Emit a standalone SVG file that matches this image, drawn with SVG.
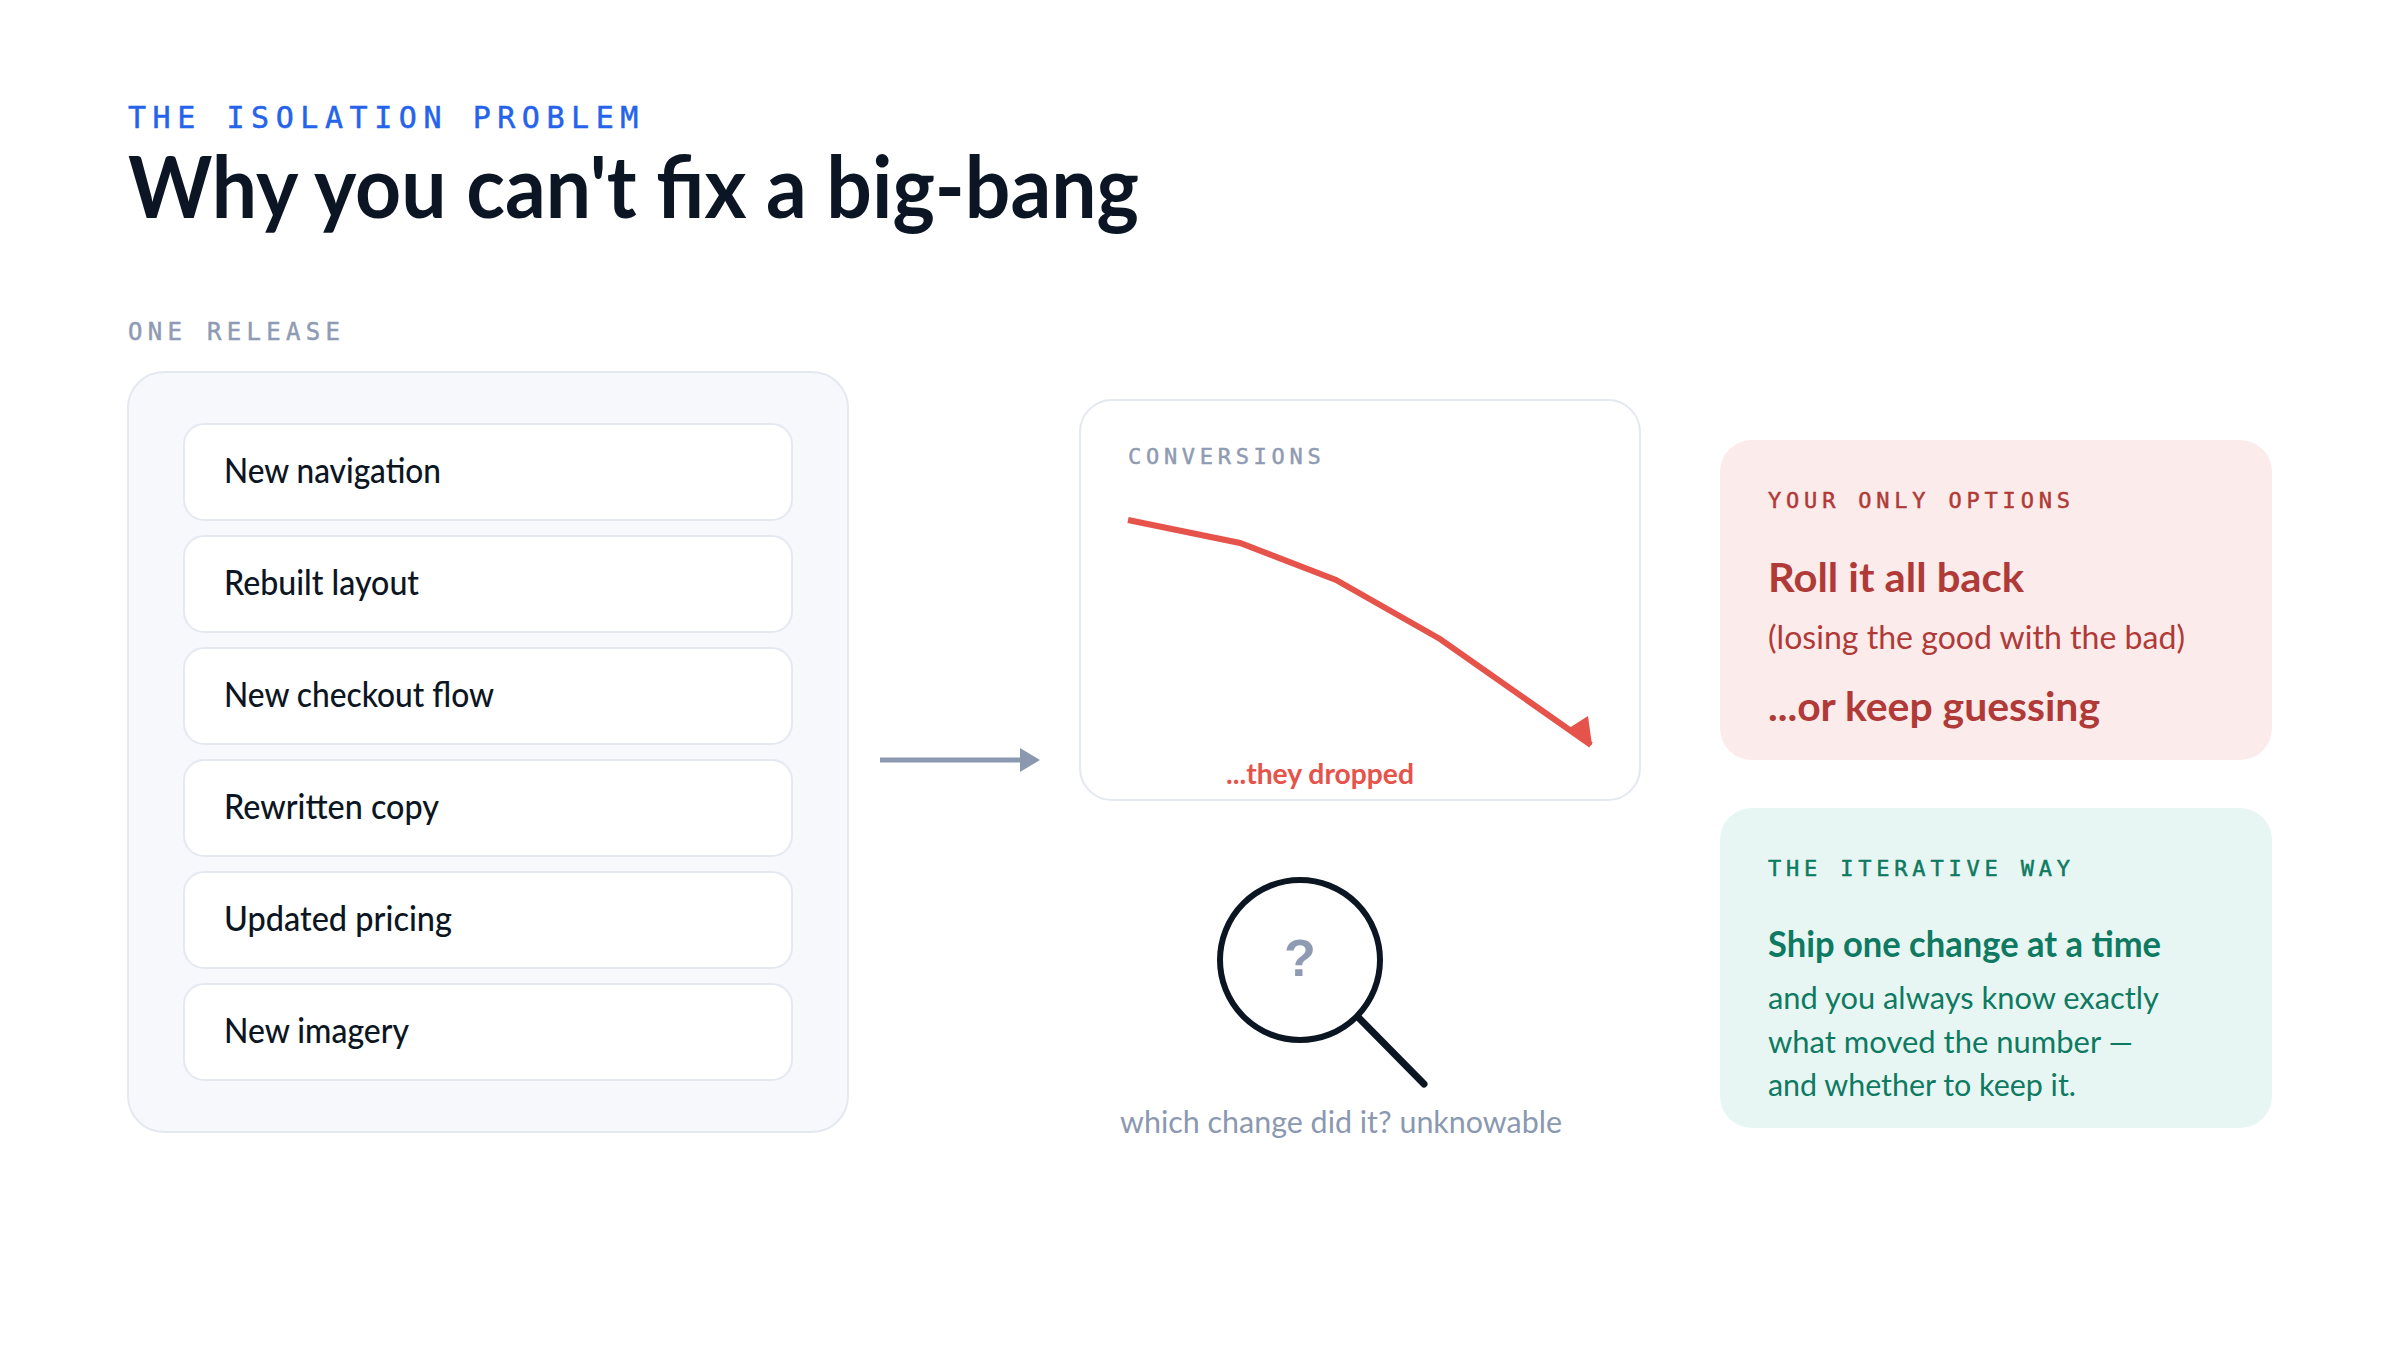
<svg xmlns="http://www.w3.org/2000/svg" width="2400" height="1360" viewBox="0 0 2400 1360">
<style>
text{font-family:"Lato","Liberation Sans",sans-serif}
.mono{font-family:"DejaVu Sans Mono","Liberation Mono",monospace;font-weight:400;stroke-width:.5px}
.item rect{fill:#fff;stroke:#e4e8f1;stroke-width:2}
.item text{font-size:35px;fill:#0c1623;font-weight:500}
.r{fill:#b03a37}.g{fill:#0e7a62}
.b{font-weight:700}
</style>
<rect width="2400" height="1360" fill="#fff"/>
<text class="mono" x="128" y="128" font-size="30" letter-spacing="6.6" fill="#2563eb" stroke="#2563eb" textLength="517" lengthAdjust="spacing">THE ISOLATION PROBLEM</text>
<text x="128" y="218" font-size="86" font-weight="700" fill="#0b1523" textLength="1011" lengthAdjust="spacingAndGlyphs">Why you can't fix a big-bang</text>
<text class="mono" x="128" y="340" font-size="24" letter-spacing="5.3" fill="#8f9bb3" stroke="#8f9bb3">ONE RELEASE</text>
<g id="release-panel"><rect x="128" y="372" width="720" height="760" rx="36" fill="#f7f8fc" stroke="#e4e8f1" stroke-width="2"/></g>
<g id="item-1" class="item"><rect x="184" y="424" width="608" height="96" rx="20"/><text x="224" y="483" textLength="217" lengthAdjust="spacingAndGlyphs">New navigation</text></g>
<g id="item-2" class="item"><rect x="184" y="536" width="608" height="96" rx="20"/><text x="224" y="595" textLength="195" lengthAdjust="spacingAndGlyphs">Rebuilt layout</text></g>
<g id="item-3" class="item"><rect x="184" y="648" width="608" height="96" rx="20"/><text x="224" y="707" textLength="270" lengthAdjust="spacingAndGlyphs">New checkout flow</text></g>
<g id="item-4" class="item"><rect x="184" y="760" width="608" height="96" rx="20"/><text x="224" y="819" textLength="215" lengthAdjust="spacingAndGlyphs">Rewritten copy</text></g>
<g id="item-5" class="item"><rect x="184" y="872" width="608" height="96" rx="20"/><text x="224" y="931" textLength="228" lengthAdjust="spacingAndGlyphs">Updated pricing</text></g>
<g id="item-6" class="item"><rect x="184" y="984" width="608" height="96" rx="20"/><text x="224" y="1043" textLength="185" lengthAdjust="spacingAndGlyphs">New imagery</text></g>
<g id="connectors"><line x1="880" y1="760" x2="1022" y2="760" stroke="#8a98b0" stroke-width="5"/><path d="M1020 748L1040 760L1020 772Z" fill="#8a98b0"/></g>
<g id="chart"><rect x="1080" y="400" width="560" height="400" rx="32" fill="#fff" stroke="#e4e8f1" stroke-width="2"/>
<text class="mono" x="1128" y="464" font-size="22" letter-spacing="4.7" fill="#8f9bb3" stroke="#8f9bb3">CONVERSIONS</text>
<polyline points="1128,520 1240,543 1336,580 1440,639 1591,745" fill="none" stroke="#e5534b" stroke-width="6"/>
<polygon points="1588,716 1566,730 1592,745" fill="#e5534b"/>
<text x="1226" y="784" font-size="29" font-weight="700" fill="#e5534b" textLength="188" lengthAdjust="spacingAndGlyphs">...they dropped</text></g>
<g id="magnifier"><circle cx="1300" cy="960" r="80" fill="none" stroke="#0c1623" stroke-width="6"/>
<line x1="1358" y1="1017" x2="1424" y2="1084" stroke="#0c1623" stroke-width="7" stroke-linecap="round"/>
<text x="1300" y="976" font-size="52" font-weight="700" fill="#8f9bb3" text-anchor="middle" style="font-family:'Liberation Sans',sans-serif">?</text>
<text x="1120" y="1133" font-size="31" fill="#8a98b0" textLength="442" lengthAdjust="spacingAndGlyphs">which change did it? unknowable</text></g>
<g id="options"><rect x="1720" y="440" width="552" height="320" rx="32" fill="#fcebeb"/>
<text class="mono r" x="1768" y="508" font-size="22" letter-spacing="4.8" stroke="#b03a37">YOUR ONLY OPTIONS</text>
<text class="r b" x="1768" y="592" font-size="41" textLength="256" lengthAdjust="spacingAndGlyphs">Roll it all back</text>
<text class="r" x="1768" y="649" font-size="33" textLength="417" lengthAdjust="spacingAndGlyphs">(losing the good with the bad)</text>
<text class="r b" x="1768" y="721" font-size="41" textLength="332" lengthAdjust="spacingAndGlyphs">...or keep guessing</text></g>
<g id="iterative"><rect x="1720" y="808" width="552" height="320" rx="32" fill="#e8f6f3"/>
<text class="mono g" x="1768" y="876" font-size="22" letter-spacing="4.8" stroke="#0e7a62">THE ITERATIVE WAY</text>
<text class="g b" x="1768" y="957" font-size="37" textLength="393" lengthAdjust="spacingAndGlyphs">Ship one change at a time</text>
<text class="g" x="1768" y="1009" font-size="31" textLength="391" lengthAdjust="spacingAndGlyphs">and you always know exactly</text>
<text class="g" x="1768" y="1053" font-size="31" textLength="365" lengthAdjust="spacingAndGlyphs">what moved the number —</text>
<text class="g" x="1768" y="1096" font-size="31" textLength="308" lengthAdjust="spacingAndGlyphs">and whether to keep it.</text></g>
</svg>
